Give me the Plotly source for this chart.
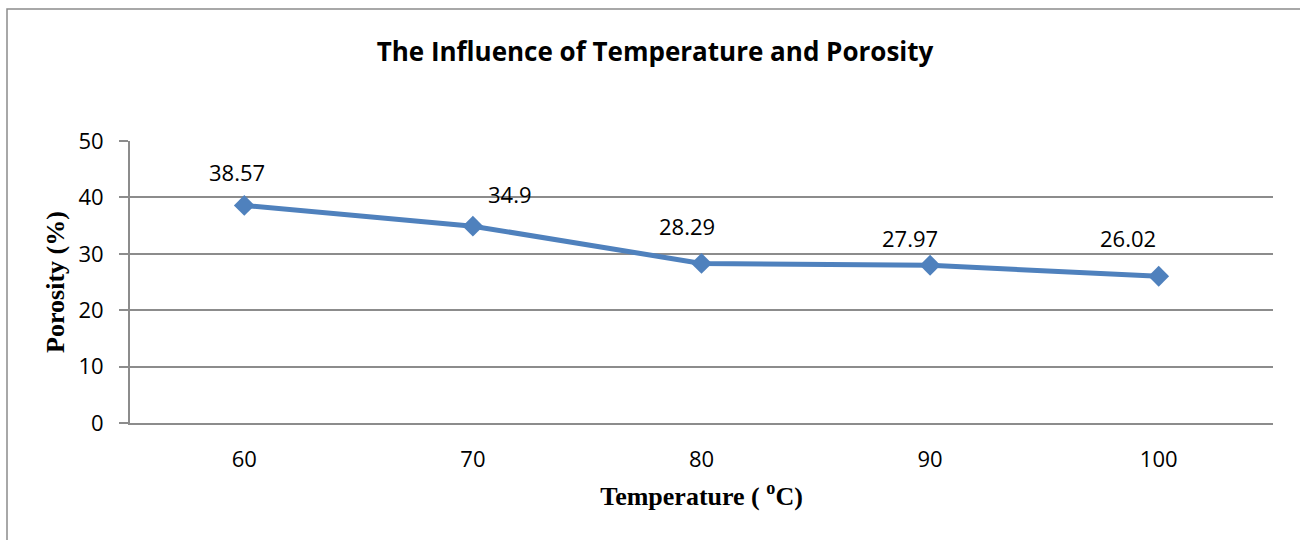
import plotly.graph_objects as go

temperatures = [60, 70, 80, 90, 100]
porosity = [38.57, 34.9, 28.29, 27.97, 26.02]
label_dx = [-7, 37, -15, -20, -31]
label_dy = [33, 32, 37, 27, 38]
y_ticks = [0, 10, 20, 30, 40, 50]

W, H = 1300, 540
L, R, T, B = 130, 27, 141, 117
pw, ph = W - L - R, H - T - B

fig = go.Figure()
fig.add_trace(go.Scatter(
    x=temperatures, y=porosity, mode="lines+markers",
    line=dict(color="#4F81BD", width=5),
    marker=dict(symbol="diamond", size=16, color="#4F81BD"),
    showlegend=False, cliponaxis=False,
))

for xv, yv, dx, dy in zip(temperatures, porosity, label_dx, label_dy):
    fig.add_annotation(x=xv, y=yv, xref="x", yref="y", text=str(yv),
                       showarrow=False, xshift=dx, yshift=dy,
                       font=dict(family="Open Sans", size=22, color="#000"))

# outer chart frame (right and bottom edges fall outside the picture)
fig.add_shape(type="rect", xref="paper", yref="paper",
              x0=(7 - L) / pw, x1=(W + 20 - L) / pw,
              y0=-(B + 20) / ph, y1=1 + (T - 9) / ph,
              line=dict(color="#8C8C8C", width=1.5), layer="below")

fig.update_layout(
    width=W, height=H,
    margin=dict(l=L, r=R, t=T, b=B),
    paper_bgcolor="white", plot_bgcolor="white",
    title=dict(text="<b>The Influence of Temperature and Porosity</b>",
               x=655 / W, xanchor="center", xref="container",
               y=1 - 52 / H, yanchor="middle", yref="container",
               font=dict(family="Open Sans", size=26, color="#000")),
)
fig.update_xaxes(
    range=[55, 105], tickvals=temperatures,
    showgrid=False, showline=True, linecolor="#8C8C8C", linewidth=2,
    ticks="", ticklabelstandoff=16, zeroline=False,
    tickfont=dict(family="Open Sans", size=22, color="#000"),
    title=dict(text="<b>Temperature ( <sup>o</sup>C)</b>", standoff=14,
               font=dict(family="Liberation Serif", size=26, color="#000")),
)
fig.update_yaxes(
    range=[0, 50], tickvals=y_ticks,
    showgrid=True, gridcolor="#8C8C8C", gridwidth=1.5,
    showline=True, linecolor="#8C8C8C", linewidth=2,
    ticks="outside", ticklen=9, tickcolor="#8C8C8C", tickwidth=1.5,
    ticklabelstandoff=11, zeroline=False,
    tickfont=dict(family="Open Sans", size=22, color="#000"),
    title=dict(text="<b>Porosity (%)</b>", standoff=6,
               font=dict(family="Liberation Serif", size=26, color="#000")),
)

fig.write_html(
    "out.html",
    config={"displayModeBar": False},
    post_script="document.body.style.margin='0';"
                "document.body.style.overflow='hidden';",
)
